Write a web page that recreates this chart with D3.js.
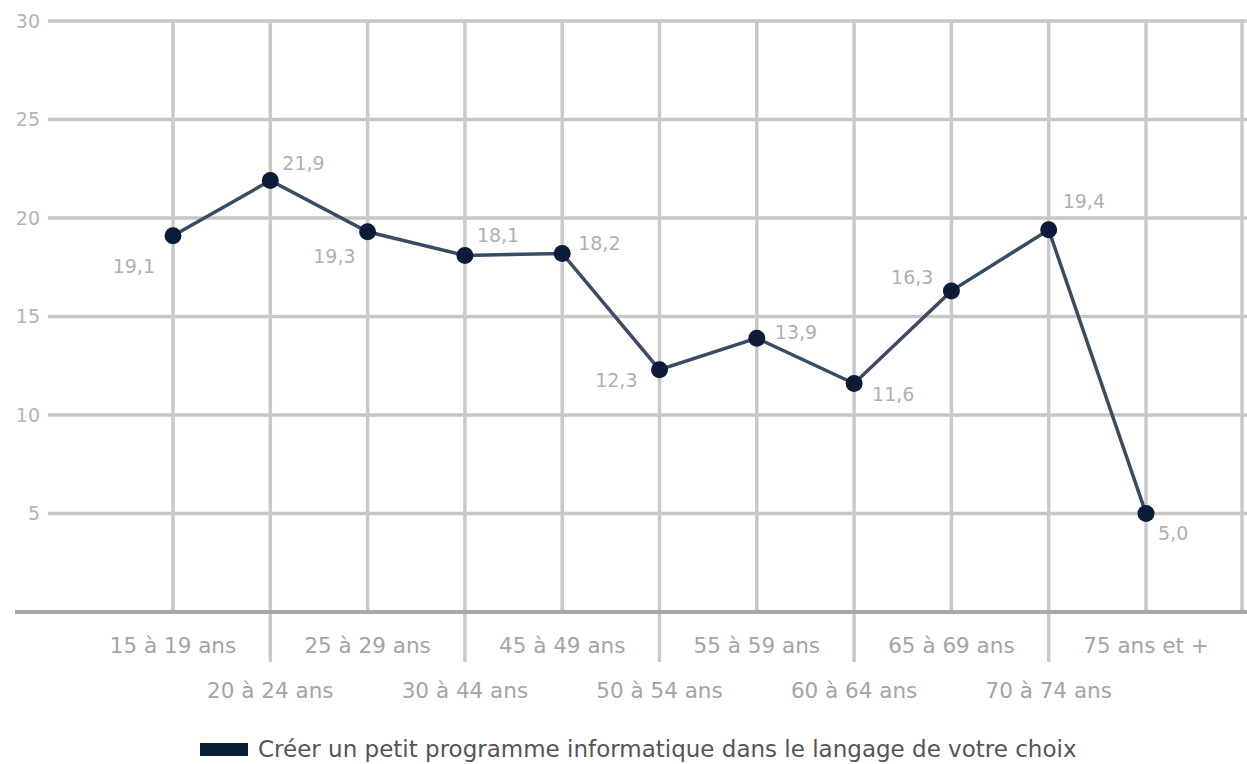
<!DOCTYPE html>
<html>
<head>
<meta charset="utf-8">
<script src="https://cdn.jsdelivr.net/npm/d3@7"></script>
<style>
  body { margin: 0; background: #fff; }
  svg text { font-family: "DejaVu Sans", sans-serif; }
</style>
</head>
<body>
<svg id="chart" width="1247" height="764"></svg>
<script>
// data
const categories = ["15 à 19 ans", "20 à 24 ans", "25 à 29 ans", "30 à 44 ans", "45 à 49 ans",
                    "50 à 54 ans", "55 à 59 ans", "60 à 64 ans", "65 à 69 ans", "70 à 74 ans", "75 ans et +"];
const values = [19.1, 21.9, 19.3, 18.1, 18.2, 12.3, 13.9, 11.6, 16.3, 19.4, 5.0];
const yTicks = [5, 10, 15, 20, 25, 30];
const seriesName = "Créer un petit programme informatique dans le langage de votre choix";

// label offsets from each point (layout only): [dx, dy], negative dx = anchored at end
const labelOffsets = [[-18, 30], [12, -17], [-12, 24], [12, -20], [16, -10], [-22, 10],
                      [18, -6], [18, 11], [-18, -14], [14, -29], [12, 20]];

const svg = d3.select("#chart");
const axisY = 612, topY = 21, gridLeft = 48, rightEdge = 1242;

const x = d3.scalePoint().domain(categories).range([173, 1146]);
const y = d3.scaleLinear().domain([0, 30]).range([axisY, topY]);

const grid = svg.append("g").attr("class", "grid");

// horizontal grid lines
grid.selectAll("line.h").data(yTicks).enter().append("line")
    .attr("class", "h")
    .attr("x1", gridLeft).attr("x2", 1247)
    .attr("y1", d => y(d)).attr("y2", d => y(d))
    .attr("stroke", "#c6c6c6").attr("stroke-width", 3.5);

// vertical grid lines (categories + right border)
const vx = categories.map(c => x(c)).concat([rightEdge]);
grid.selectAll("line.v").data(vx).enter().append("line")
    .attr("class", "v")
    .attr("x1", d => d).attr("x2", d => d)
    .attr("y1", topY).attr("y2", axisY)
    .attr("stroke", "#c9c9c9").attr("stroke-width", 3.5);

// ticks below axis between staggered labels
grid.selectAll("line.t").data(categories.filter((c, i) => i % 2 === 1)).enter().append("line")
    .attr("class", "t")
    .attr("x1", d => x(d)).attr("x2", d => x(d))
    .attr("y1", axisY).attr("y2", 662)
    .attr("stroke", "#c9c9c9").attr("stroke-width", 3.5);

// x axis line
svg.append("line")
    .attr("x1", 15).attr("x2", 1247)
    .attr("y1", axisY).attr("y2", axisY)
    .attr("stroke", "#a8a8a8").attr("stroke-width", 4);

// y tick labels
svg.append("g").selectAll("text").data(yTicks).enter().append("text")
    .attr("x", 40).attr("y", d => y(d))
    .attr("dy", "0.36em")
    .attr("text-anchor", "end")
    .attr("font-size", 19)
    .attr("fill", "#b4b4b4")
    .text(d => d);

// x labels, staggered on two rows
svg.append("g").selectAll("text").data(categories).enter().append("text")
    .attr("x", d => x(d))
    .attr("y", (d, i) => i % 2 === 0 ? 645 : 690)
    .attr("dy", "0.36em")
    .attr("text-anchor", "middle")
    .attr("font-size", 21.5)
    .attr("fill", "#a4a4a4")
    .text(d => d);

// line
const line = d3.line()
    .x((d, i) => x(categories[i]))
    .y(d => y(d));

svg.append("path")
    .datum(values)
    .attr("d", line)
    .attr("fill", "none")
    .attr("stroke", "#3a4c64")
    .attr("stroke-width", 3.5);

svg.append("g").selectAll("circle").data(values).enter().append("circle")
    .attr("cx", (d, i) => x(categories[i]))
    .attr("cy", d => y(d))
    .attr("r", 8.5)
    .attr("fill", "#0b1c38");

// data labels
const fmt = d => d.toFixed(1).replace(".", ",");
svg.append("g").selectAll("text").data(values).enter().append("text")
    .attr("x", (d, i) => x(categories[i]) + labelOffsets[i][0])
    .attr("y", (d, i) => y(d) + labelOffsets[i][1])
    .attr("dy", "0.36em")
    .attr("text-anchor", (d, i) => labelOffsets[i][0] < 0 ? "end" : "start")
    .attr("font-size", 19)
    .attr("fill", "#b0b0b0")
    .text(fmt);

// legend
const legend = svg.append("g");
legend.append("rect")
    .attr("x", 200).attr("y", 743)
    .attr("width", 48).attr("height", 13)
    .attr("fill", "#0b1c38");
legend.append("text")
    .attr("x", 258).attr("y", 749)
    .attr("dy", "0.36em")
    .attr("font-size", 23)
    .attr("fill", "#555")
    .text(seriesName);
</script>
</body>
</html>
